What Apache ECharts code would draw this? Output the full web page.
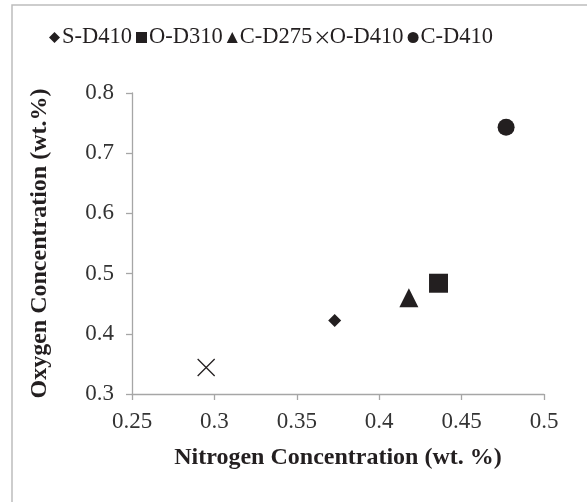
<!DOCTYPE html>
<html>
<head>
<meta charset="utf-8">
<script src="https://cdn.jsdelivr.net/npm/echarts@6/dist/echarts.min.js"></script>
<style>html,body{margin:0;padding:0;background:#fff}#c{width:587px;height:502px}</style>
</head>
<body>
<div id="c"></div>
<script>
const seriesNames = ['S-D410', 'O-D310', 'C-D275', 'O-D410', 'C-D410'];
const nitrogen = [0.373, 0.436, 0.418, 0.295, 0.477];
const oxygen = [0.422, 0.484, 0.460, 0.344, 0.743];
const xTicks = [0.25, 0.3, 0.35, 0.4, 0.45, 0.5];
const yTicks = [0.3, 0.4, 0.5, 0.6, 0.7, 0.8];

const crossPath = 'path://M0,0L10,10M10,0L0,10';
const symbols = ['diamond', 'rect', 'triangle', crossPath, 'circle'];
const sizes = [13, 19, 19, 17, 17];
const ink = '#231f20';
const serif = '"Liberation Serif", "Times New Roman", serif';

const series = seriesNames.map((n, i) => {
  const isCross = i === 3;
  return {
    name: n,
    type: 'scatter',
    symbol: symbols[i],
    symbolSize: sizes[i],
    data: [[nitrogen[i], oxygen[i]]],
    itemStyle: isCross
      ? { color: 'rgba(0,0,0,0)', borderColor: ink, borderWidth: 1.3, opacity: 1 }
      : { color: ink, opacity: 1 },
    emphasis: { disabled: true }
  };
});

const chart = echarts.init(document.getElementById('c'), null, { renderer: 'canvas' });
chart.setOption({
  animation: false,
  backgroundColor: '#fff',
  graphic: [{
    type: 'rect',
    shape: { x: 12, y: 5, width: 600, height: 520 },
    style: { fill: 'none', stroke: '#bdbdbd', lineWidth: 1.5 },
    silent: true
  }],
  legend: {
    top: 21,
    left: 44,
    itemWidth: 11,
    itemHeight: 11,
    itemGap: 4,
    textStyle: { fontFamily: serif, fontSize: 22.5, color: '#231f20', padding: [0, 0, 0, -3] },
    data: seriesNames.map((n, i) => ({
      name: n,
      icon: symbols[i],
      itemStyle: i === 3 ? { color: 'rgba(0,0,0,0)', borderColor: ink, borderWidth: 1.2, opacity: 1 } : { color: ink, opacity: 1 }
    }))
  },
  grid: { left: 132, right: 43, top: 93, bottom: 108, containLabel: false },
  xAxis: {
    type: 'value',
    min: xTicks[0],
    max: xTicks[xTicks.length - 1],
    interval: 0.05,
    name: 'Nitrogen Concentration (wt. %)',
    nameLocation: 'middle',
    nameGap: 52,
    nameTextStyle: { fontFamily: serif, fontSize: 24, fontWeight: 'bold', color: '#231f20' },
    axisLine: { show: true, lineStyle: { color: '#a6a6a6', width: 1.3 } },
    axisTick: { show: true, length: 6, lineStyle: { color: '#a6a6a6', width: 1.3 } },
    axisLabel: { fontFamily: serif, fontSize: 23, color: '#333', margin: 16 },
    splitLine: { show: false }
  },
  yAxis: {
    type: 'value',
    min: yTicks[0],
    max: yTicks[yTicks.length - 1],
    interval: 0.1,
    name: 'Oxygen Concentration (wt.%)',
    nameLocation: 'middle',
    nameGap: 80,
    nameTextStyle: { fontFamily: serif, fontSize: 24, fontWeight: 'bold', color: '#231f20' },
    axisLine: { show: true, lineStyle: { color: '#a6a6a6', width: 1.3 } },
    axisTick: { show: true, length: 6, lineStyle: { color: '#a6a6a6', width: 1.3 } },
    axisLabel: { fontFamily: serif, fontSize: 23, color: '#333', margin: 18 },
    splitLine: { show: false }
  },
  series: series
});
</script>
</body>
</html>
